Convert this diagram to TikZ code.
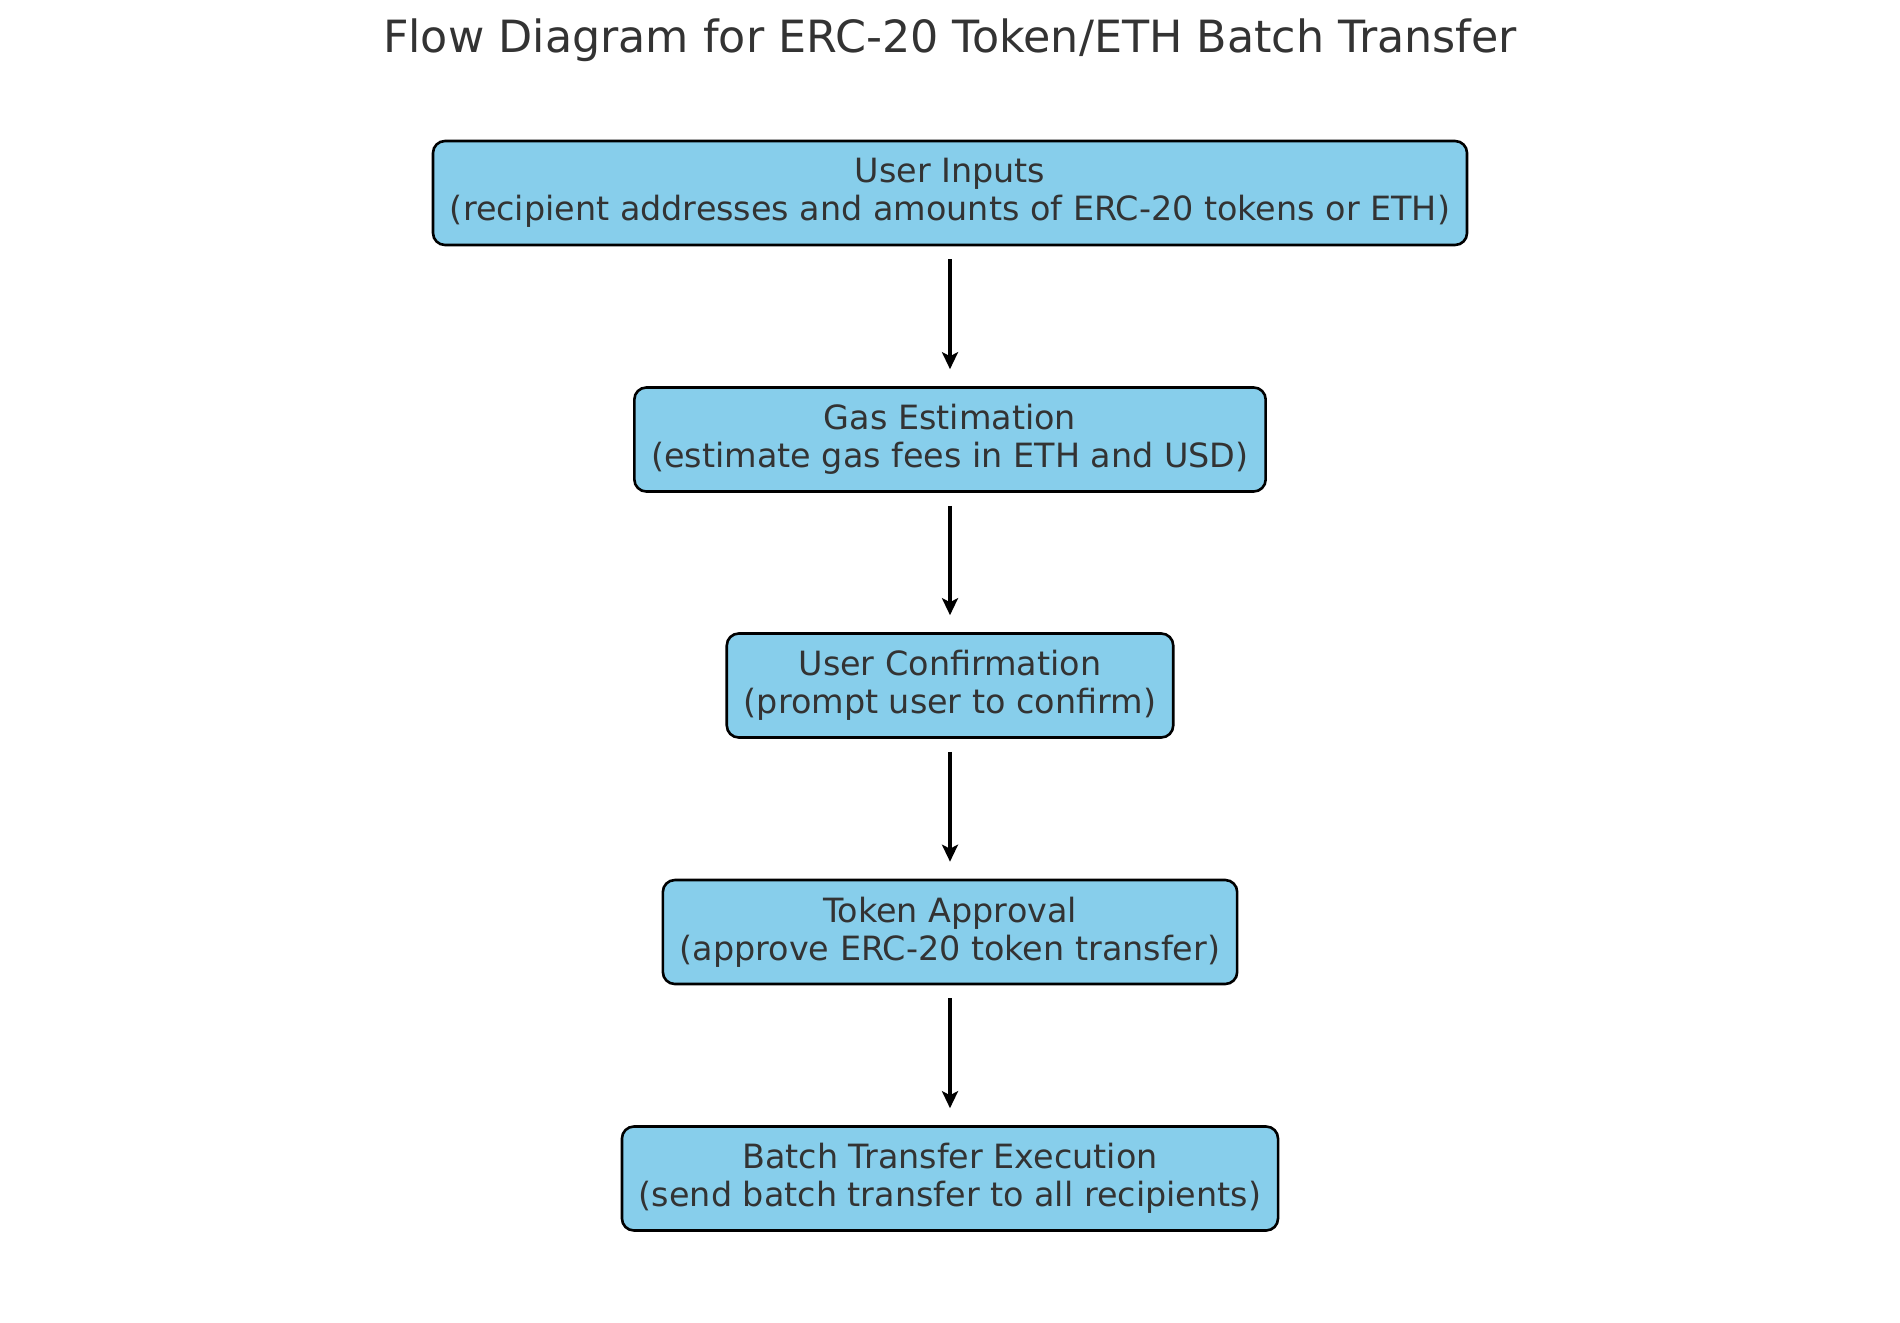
\documentclass[tikz,border=0pt]{standalone}
\usepackage{fontspec}
\setmainfont{DejaVu Sans}
\usetikzlibrary{arrows.meta}
\definecolor{skyblue}{HTML}{87CEEB}
\definecolor{txt}{HTML}{333333}
\tikzset{
  stepbox/.style={draw=black, fill=skyblue, rounded corners=6pt, line width=1.3pt,
    align=center, text=txt, font=\fontsize{16.7}{19.2}\selectfont,
    inner xsep=8.5pt, minimum height=52pt},
  flowarrow/.style={-{Stealth[length=8.5pt,width=8pt,inset=2pt]}, line width=2.2pt,
    shorten <=6.5pt, shorten >=8.5pt},
  titletext/.style={text=txt, font=\fontsize{22.2}{26}\selectfont}
}
\begin{document}
\begin{tikzpicture}[x=0.5pt,y=-0.5pt]
\useasboundingbox (0,0) rectangle (1900,1322);
\node[titletext] (title) at (950,40) {Flow Diagram for ERC-20 Token/ETH Batch Transfer};
\node[stepbox] (inputs) at (950,193) {User Inputs\\(recipient addresses and amounts of ERC-20 tokens or ETH)};
\node[stepbox] (gas) at (950,439.5) {Gas Estimation\\(estimate gas fees in ETH and USD)};
\node[stepbox] (confirm) at (950,685.5) {User Confirmation\\(prompt user to confirm)};
\node[stepbox] (approve) at (950,932) {Token Approval\\(approve ERC-20 token transfer)};
\node[stepbox] (exec) at (950,1178.5) {Batch Transfer Execution\\(send batch transfer to all recipients)};
\draw[flowarrow] (inputs.south) -- (gas.north);
\draw[flowarrow] (gas.south) -- (confirm.north);
\draw[flowarrow] (confirm.south) -- (approve.north);
\draw[flowarrow] (approve.south) -- (exec.north);
\end{tikzpicture}
\end{document}
